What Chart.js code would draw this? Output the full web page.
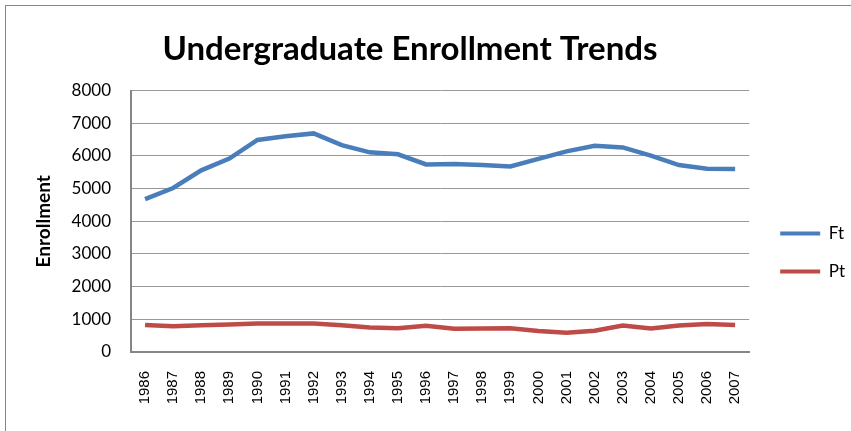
<!DOCTYPE html>
<html>
<head>
<meta charset="utf-8">
<script src="https://cdn.jsdelivr.net/npm/chart.js@4"></script>
<style>
  html, body { margin: 0; padding: 0; background: #fff; overflow: hidden; }
  #wrap { position: relative; width: 851px; height: 431px; }
  #frame { position: absolute; left: 5px; top: 5px; width: 900px; height: 500px; border: 1px solid #868686; pointer-events: none; }
</style>
</head>
<body>
<div id="wrap">
  <canvas id="myChart" width="851" height="431"></canvas>
  <div id="frame"></div>
</div>
<script>
// values
const years = ["1986", "1987", "1988", "1989", "1990", "1991", "1992", "1993", "1994", "1995", "1996",
  "1997", "1998", "1999", "2000", "2001", "2002", "2003", "2004", "2005", "2006", "2007"]
const ftValues = [4680, 5020, 5560, 5920, 6490, 6600, 6690, 6330, 6110, 6050, 5740,
  5750, 5720, 5680, 5910, 6140, 6310, 6260, 6010, 5720, 5610, 5600]
const ptValues = [830, 790, 820, 840, 870, 870, 870, 820, 750, 730, 800,
  710, 720, 730, 640, 590, 650, 810, 720, 810, 860, 830]
const yTicks = [0, 1000, 2000, 3000, 4000, 5000, 6000, 7000, 8000]

const blue = "#4a7ebb"
const red = "#be4b48"

new Chart("myChart", {
  type: "line",
  data: {
    labels: years,
    datasets: [
      { label: "Ft", data: ftValues, borderColor: blue, backgroundColor: blue, borderWidth: 4.5, pointRadius: 0, tension: 0 },
      { label: "Pt", data: ptValues, borderColor: red, backgroundColor: red, borderWidth: 4.5, pointRadius: 0, tension: 0 }
    ]
  },
  options: {
    responsive: false,
    animation: false,
    // left padding is negative so the title centre sits a bit left, like the original
    layout: { padding: { left: -35, right: -4, top: 0, bottom: 0 } },
    plugins: {
      title: {
        display: true,
        text: "Undergraduate Enrollment Trends",
        color: "#000",
        font: { family: "Lato", size: 33, weight: "bold" },
        padding: { top: 30, bottom: 21 }
      },
      legend: {
        position: "right",
        align: "center",
        title: { display: true, text: " ", font: { size: 10 }, padding: { top: 31, bottom: 31 } },
        labels: {
          color: "#000",
          font: { family: "Lato", size: 17 },
          boxWidth: 40,
          boxHeight: 4,
          padding: 21,
          generateLabels: (chart) => Chart.defaults.plugins.legend.labels.generateLabels(chart).map(l => ({ ...l, lineWidth: 0 }))
        }
      },
      tooltip: { enabled: false }
    },
    scales: {
      x: {
        offset: true,
        grid: { display: false, drawTicks: false },
        border: { color: "#868686", width: 2 },
        ticks: {
          color: "#000",
          font: { family: "Liberation Sans", size: 15 },
          minRotation: 90,
          maxRotation: 90,
          padding: 19,
          autoSkip: false
        },
        afterFit: (s) => { s.height = 79 }
      },
      y: {
        min: 0,
        max: 8000,
        afterBuildTicks: (s) => { s.ticks = yTicks.map(v => ({ value: v })) },
        grid: { color: "#989898", lineWidth: 1, drawTicks: false },
        border: { color: "#868686", width: 2 },
        ticks: {
          color: "#000",
          font: { family: "Lato", size: 17 },
          padding: 20,
          callback: (v) => String(v)
        },
        title: {
          display: true,
          text: "Enrollment",
          color: "#000",
          font: { family: "Lato", size: 19, weight: "bold" },
          padding: { top: 67, bottom: 0 }
        },
        afterFit: (s) => { s.width = 166 }
      },
      // empty gap between the plot and the legend
      gap: {
        position: "right",
        display: true,
        grid: { display: false, drawTicks: false },
        border: { display: false },
        ticks: { display: false },
        afterFit: (s) => { s.width = 10 }
      }
    }
  }
})
</script>
</body>
</html>
